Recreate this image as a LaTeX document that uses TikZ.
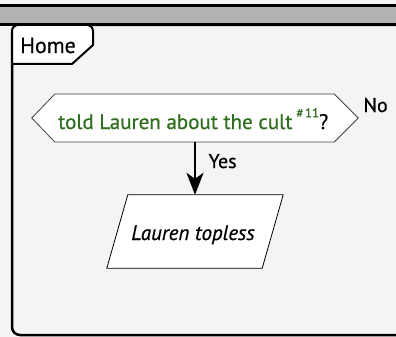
\documentclass[tikz,border=0pt]{standalone}
\usepackage{fontspec}
\setmainfont{PT Sans}[FakeBold=0.6]
\usepackage{tikz}
\usetikzlibrary{arrows.meta, positioning, calc}

\definecolor{cultgreen}{RGB}{46,110,30}
\definecolor{panelgray}{RGB}{244,244,244}
\definecolor{bandgray}{RGB}{178,178,176}

\begin{document}
\begin{tikzpicture}[x=1pt, y=-1pt,
      boxtext/.style={inner sep=0pt, font=\fontsize{22pt}{24pt}\selectfont},
      shapeline/.style={draw=black!75, fill=white, line width=0.8pt},
      flowarrow/.style={-{Stealth[length=22pt, width=17pt, inset=6pt]}, line width=2pt},
      answer/.style={font=\fontsize{20pt}{24pt}\selectfont, text=black} ]

    \useasboundingbox (0,0) rectangle (396,337);

    % Background strip
    \fill[black!4] (0,0) rectangle (396,337);
    \fill[bandgray] (0,5) rectangle (396,25);
    \draw[line width=2.5pt] (0,5.5) -- (396,5.5); \draw[line width=2.5pt] (0,24.5) --
    (396,24.5);

    % Panel frame
    \draw[line width=2.5pt, fill=panelgray, rounded corners=8pt] (400,25) -- (12,25)
    -- (12,335) -- (400,335);

    % Home tab
    \draw[line width=2pt, fill=white, rounded corners=6pt] (12,64) -- (12,25) -- (93,25)
    [sharp corners] -- (93,45) -- (72,64) -- (12,64);
    \node[boxtext, anchor=base west] (home) at (20,53) {Home};

    % Decision hexagon
    \node[minimum width=326pt, minimum height=48pt, inner sep=0pt] (told) at (195,118) {};
    \draw[shapeline] (told.west) -- ++(23,-24) -- ($(told.east)+(-24,-24)$) -- (told.east)
    -- ++(-24,24) -- ($(told.west)+(23,24)$) -- cycle;
    \node[boxtext, font=\fontsize{21pt}{24pt}\selectfont, anchor=base west] (toldtext) at (58,129)
    {\textcolor{cultgreen}{told Lauren about the cult\,\raisebox{1.1ex}{\fontsize{13pt}{14pt}\selectfont
    \textit{\#}\,11}}?};

    % Action parallelogram
    \node[minimum width=155pt, minimum height=73pt, inner sep=0pt] (topless) at (195,231.5) {};
    \draw[shapeline, draw=black] ($(topless.north west)+(10.5,0)$) -- ($(topless.north east)+(10.5,0)$)
    -- ($(topless.south east)+(-10.5,0)$) -- ($(topless.south west)+(-10.5,0)$) -- cycle;
    \node[boxtext, font=\fontsize{21pt}{24pt}\selectfont\itshape, anchor=base]
    (toplesstext) at (193,240) {Lauren topless};

    % Connector and answers
    \draw[flowarrow] (told.south) -- (topless.north);
    \node[answer, anchor=base west] (yes) at (205,168) {Yes};
    \node[answer, anchor=base west] (no) at (360,112) {No};

    \end{tikzpicture}
\end{document}
